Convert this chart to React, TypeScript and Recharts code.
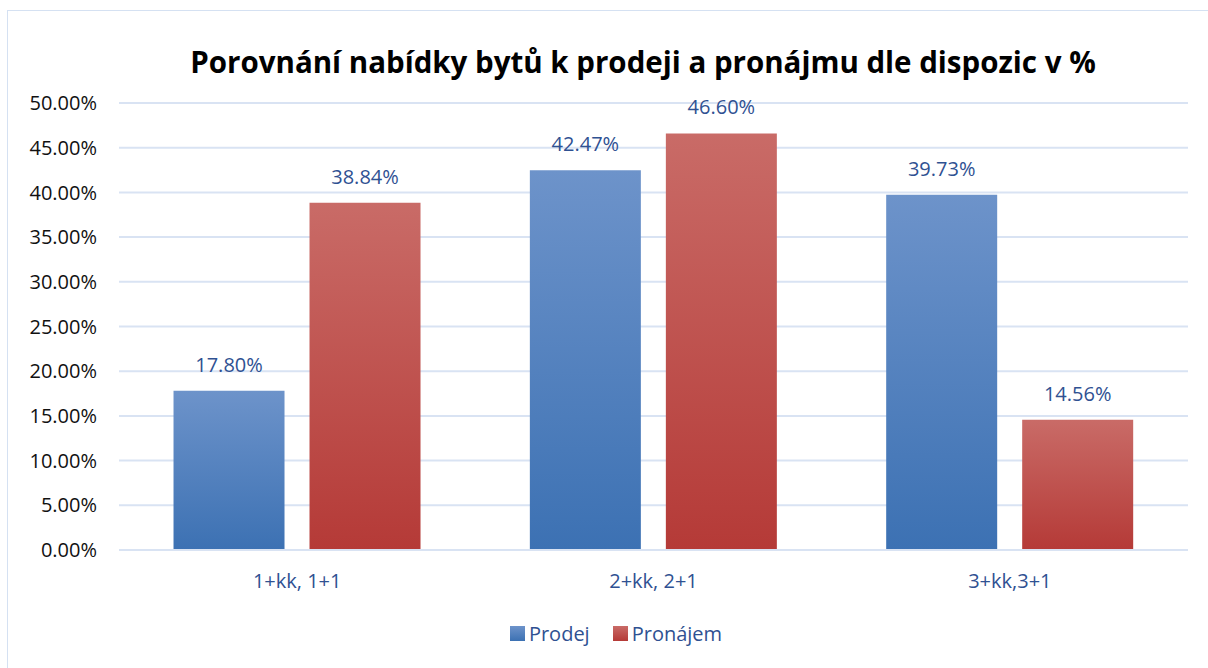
import React from 'react'
import { BarChart, Bar, XAxis, YAxis, CartesianGrid, Legend, LabelList } from 'recharts'

const categories = ['1+kk, 1+1', '2+kk, 2+1', '3+kk,3+1']
const prodej = [17.8, 42.47, 39.73]
const pronajem = [38.84, 46.6, 14.56]
const yTicks = [0, 5, 10, 15, 20, 25, 30, 35, 40, 45, 50]
const seriesNames = ['Prodej', 'Pronájem']

const chartData = categories.map((c, i) => ({ name: c, prodej: prodej[i], pronajem: pronajem[i] }))

const FONT = '"Open Sans", "DejaVu Sans", sans-serif'
const BLUE_TEXT = '#2F5192'

function LegendContent(): React.ReactElement {
  const flat = [
    ['#6D93CA', '#3C71B3'],
    ['#C96B67', '#B53A37'],
  ]
  return (
    <div style={{ display: 'flex', justifyContent: 'center', alignItems: 'center', paddingLeft: 44, paddingTop: 6, fontFamily: FONT, fontSize: 20, color: BLUE_TEXT }}>
      {seriesNames.map((n, i) => (
        <div key={n} style={{ display: 'flex', alignItems: 'center', marginRight: i === 0 ? 23 : 0 }}>
          <span
            style={{ display: 'inline-block', width: 15, height: 15, marginRight: 4, background: `linear-gradient(${flat[i][0]}, ${flat[i][1]})` }}
          />
          <span>{n}</span>
        </div>
      ))}
    </div>
  )
}

export default function App(): React.ReactElement {
  return (
    <div style={{ position: 'absolute', left: 0, top: 0, width: 1208, height: 668, background: '#fff', overflow: 'hidden' }}>
      <div style={{ position: 'absolute', left: 7, top: 10, width: 1220, height: 700, border: '1px solid #D5E1F2' }} />
      <div
        style={{
          position: 'absolute', left: 0, top: 41, width: 1286, textAlign: 'center',
          fontFamily: FONT, fontWeight: 700, fontSize: 29.5, color: '#000',
        }}
      >
        Porovnání nabídky bytů k prodeji a pronájmu dle dispozic v %
      </div>
      <BarChart
        width={1208}
        height={668}
        data={chartData}
        margin={{ top: 103, right: 20, bottom: 14, left: 0 }}
        barCategoryGap="15.3%"
        barGap={25}
        style={{ position: 'absolute', left: 0, top: 0 }}
      >
        <defs>
          <linearGradient id="gBlue" x1="0" y1="0" x2="0" y2="1">
            <stop offset="0%" stopColor="#6D93CA" />
            <stop offset="100%" stopColor="#3C71B3" />
          </linearGradient>
          <linearGradient id="gRed" x1="0" y1="0" x2="0" y2="1">
            <stop offset="0%" stopColor="#C96B67" />
            <stop offset="100%" stopColor="#B53A37" />
          </linearGradient>
        </defs>
        <CartesianGrid vertical={false} stroke="#D9E3F3" strokeWidth={2} />
        <XAxis
          dataKey="name"
          height={64}
          axisLine={{ stroke: '#D9E3F3', strokeWidth: 2 }}
          tickLine={false}
          tickSize={0}
          tickMargin={24}
          tick={{ fill: BLUE_TEXT, fontSize: 20, fontFamily: FONT }}
        />
        <YAxis
          width={119}
          domain={[0, 50]}
          ticks={yTicks}
          axisLine={false}
          tickLine={false}
          tickSize={0}
          tickMargin={22}
          interval={0}
          tickFormatter={(v: number) => `${v.toFixed(2)}%`}
          tick={{ fill: '#111', fontSize: 20, fontFamily: FONT }}
        />
        <Legend verticalAlign="bottom" height={40} content={<LegendContent />} />
        <Bar dataKey="prodej" name={seriesNames[0]} fill="url(#gBlue)" isAnimationActive={false}>
          <LabelList
            dataKey="prodej"
            position="top"
            offset={19}
            formatter={(v: number) => `${Number(v).toFixed(2)}%`}
            style={{ fill: BLUE_TEXT, fontSize: 20, fontFamily: FONT }}
          />
        </Bar>
        <Bar dataKey="pronajem" name={seriesNames[1]} fill="url(#gRed)" isAnimationActive={false}>
          <LabelList
            dataKey="pronajem"
            position="top"
            offset={19}
            formatter={(v: number) => `${Number(v).toFixed(2)}%`}
            style={{ fill: BLUE_TEXT, fontSize: 20, fontFamily: FONT }}
          />
        </Bar>
      </BarChart>
    </div>
  )
}
